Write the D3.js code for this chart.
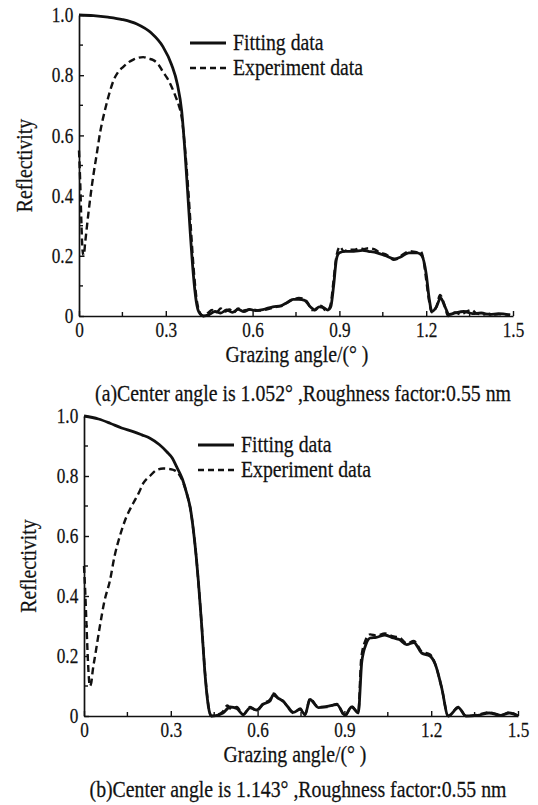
<!DOCTYPE html>
<html>
<head>
<meta charset="utf-8">
<script src="https://cdn.jsdelivr.net/npm/d3@7"></script>
<style>
  html, body { margin: 0; padding: 0; background: #fff; }
  svg text { font-family: "Liberation Serif", "Times New Roman", serif; fill: #111; stroke: #111; stroke-width: 0.25; }
</style>
</head>
<body>
<svg id="chart" width="538" height="805"></svg>
<script>
// ---------- DATA ----------
const xTicks = [0, 0.3, 0.6, 0.9, 1.2, 1.5];
const xTickLabels = ["0", "0.3", "0.6", "0.9", "1.2", "1.5"];
const yTicks = [0, 0.2, 0.4, 0.6, 0.8, 1.0];
const yTickLabels = ["0", "0.2", "0.4", "0.6", "0.8", "1.0"];
const seriesNames = ["Fitting data", "Experiment data"];
const captions = [
  "(a)Center angle is 1.052\u00B0 ,Roughness factor:0.55 nm",
  "(b)Center angle is 1.143\u00B0 ,Roughness factor:0.55 nm"
];
const xLabel = "Grazing angle/(\u00B0 )";
const yLabel = "Reflectivity";

// Panel (a) fitting
const fitA_x = [0, 0.05, 0.1, 0.15, 0.2, 0.25, 0.29, 0.32, 0.34, 0.355, 0.366, 0.375, 0.385, 0.395, 0.405, 0.415, 0.43, 0.45, 0.47, 0.49, 0.51, 0.53, 0.55, 0.57, 0.59, 0.61, 0.63, 0.65, 0.67, 0.7, 0.72, 0.74, 0.76, 0.78, 0.8, 0.815, 0.83, 0.845, 0.86, 0.87, 0.88, 0.89, 0.9, 0.92, 0.95, 0.98, 1.0, 1.03, 1.06, 1.09, 1.11, 1.14, 1.17, 1.185, 1.2, 1.21, 1.22, 1.235, 1.25, 1.265, 1.28, 1.3, 1.33, 1.36, 1.39, 1.42, 1.45, 1.49];
const fitA_y = [1.0, 0.998, 0.993, 0.985, 0.97, 0.94, 0.895, 0.835, 0.77, 0.68, 0.55, 0.42, 0.27, 0.14, 0.05, 0.012, 0.0, 0.005, 0.015, 0.01, 0.02, 0.012, 0.022, 0.015, 0.022, 0.018, 0.02, 0.025, 0.03, 0.035, 0.045, 0.055, 0.055, 0.052, 0.03, 0.02, 0.03, 0.028, 0.02, 0.03, 0.1, 0.19, 0.21, 0.215, 0.215, 0.218, 0.215, 0.21, 0.2, 0.19, 0.195, 0.21, 0.21, 0.2, 0.14, 0.06, 0.015, 0.03, 0.06, 0.03, 0.005, 0.01, 0.015, 0.008, 0.01, 0.005, 0.008, 0.003];

// Panel (a) experiment
const expA_x = [0, 0.004, 0.008, 0.012, 0.016, 0.022, 0.03, 0.04, 0.05, 0.06, 0.073, 0.09, 0.105, 0.12, 0.135, 0.153, 0.17, 0.188, 0.205, 0.222, 0.24, 0.257, 0.275, 0.291, 0.305, 0.32, 0.334, 0.345, 0.355, 0.366, 0.376, 0.386, 0.396, 0.406, 0.416, 0.43, 0.445, 0.46, 0.475, 0.49, 0.505, 0.52, 0.535, 0.55, 0.565, 0.58, 0.6, 0.62, 0.64, 0.66, 0.68, 0.7, 0.72, 0.74, 0.76, 0.775, 0.79, 0.805, 0.816, 0.828, 0.839, 0.85, 0.86, 0.87, 0.88, 0.89, 0.902, 0.915, 0.93, 0.95, 0.97, 0.985, 1.0, 1.02, 1.04, 1.06, 1.075, 1.086, 1.1, 1.12, 1.144, 1.167, 1.18, 1.19, 1.2, 1.21, 1.219, 1.235, 1.248, 1.262, 1.276, 1.3, 1.32, 1.34, 1.357, 1.375, 1.4, 1.42, 1.44, 1.46, 1.49];
const expA_y = [0.55, 0.45, 0.32, 0.22, 0.2, 0.25, 0.32, 0.4, 0.47, 0.53, 0.61, 0.685, 0.74, 0.784, 0.81, 0.828, 0.842, 0.852, 0.858, 0.86, 0.855, 0.85, 0.835, 0.81, 0.79, 0.762, 0.729, 0.7, 0.66, 0.56, 0.44, 0.3, 0.16, 0.06, 0.015, 0.0, 0.01, 0.02, 0.012, 0.025, 0.015, 0.022, 0.012, 0.025, 0.018, 0.02, 0.022, 0.018, 0.02, 0.025, 0.03, 0.033, 0.045, 0.055, 0.06, 0.058, 0.045, 0.02, 0.02, 0.035, 0.033, 0.02, 0.02, 0.04, 0.12, 0.2, 0.23, 0.215, 0.22, 0.22, 0.225, 0.222, 0.225, 0.222, 0.21, 0.205, 0.195, 0.187, 0.19, 0.205, 0.215, 0.212, 0.215, 0.19, 0.12, 0.05, 0.012, 0.03, 0.07, 0.04, 0.0, 0.012, 0.005, 0.015, 0.02, 0.008, 0.005, 0.008, 0.005, 0.006, 0.004];

// Panel (b) fitting
const fitB_x = [0, 0.05, 0.09, 0.13, 0.17, 0.2, 0.228, 0.26, 0.286, 0.305, 0.32, 0.34, 0.355, 0.368, 0.378, 0.388, 0.395, 0.407, 0.419, 0.43, 0.44, 0.46, 0.48, 0.505, 0.528, 0.55, 0.574, 0.597, 0.62, 0.643, 0.654, 0.67, 0.689, 0.705, 0.724, 0.747, 0.764, 0.781, 0.81, 0.84, 0.874, 0.902, 0.925, 0.948, 0.96, 0.975, 0.989, 1.01, 1.04, 1.07, 1.09, 1.115, 1.14, 1.167, 1.196, 1.215, 1.236, 1.259, 1.294, 1.32, 1.36, 1.4, 1.44, 1.47, 1.5];
const fitB_y = [1.0, 0.99, 0.976, 0.96, 0.948, 0.937, 0.926, 0.905, 0.881, 0.86, 0.831, 0.79, 0.742, 0.69, 0.62, 0.53, 0.453, 0.298, 0.131, 0.031, 0.0, 0.002, 0.01, 0.03, 0.025, 0.005, 0.027, 0.02, 0.04, 0.05, 0.07, 0.06, 0.048, 0.03, 0.012, 0.022, 0.005, 0.055, 0.028, 0.032, 0.038, 0.003, 0.03, 0.01, 0.18, 0.24, 0.26, 0.262, 0.27, 0.26, 0.255, 0.238, 0.245, 0.21, 0.2, 0.17, 0.095, 0.0, 0.028, 0.0, 0.002, 0.01, 0.002, 0.01, 0.0];

// Panel (b) experiment
const expB_x = [0, 0.004, 0.008, 0.012, 0.016, 0.02, 0.025, 0.03, 0.04, 0.055, 0.07, 0.09, 0.105, 0.124, 0.145, 0.17, 0.19, 0.205, 0.228, 0.251, 0.274, 0.297, 0.31, 0.325, 0.34, 0.355, 0.368, 0.378, 0.388, 0.395, 0.407, 0.419, 0.43, 0.44, 0.46, 0.48, 0.495, 0.51, 0.528, 0.55, 0.574, 0.597, 0.62, 0.643, 0.656, 0.672, 0.689, 0.705, 0.724, 0.747, 0.764, 0.781, 0.81, 0.84, 0.874, 0.902, 0.925, 0.948, 0.958, 0.972, 0.989, 1.01, 1.04, 1.07, 1.09, 1.115, 1.14, 1.167, 1.196, 1.215, 1.236, 1.259, 1.294, 1.32, 1.36, 1.4, 1.44, 1.47, 1.5];
const expB_y = [0.5, 0.42, 0.32, 0.22, 0.14, 0.1, 0.11, 0.15, 0.21, 0.3, 0.38, 0.453, 0.53, 0.6, 0.66, 0.709, 0.745, 0.776, 0.8, 0.82, 0.825, 0.823, 0.82, 0.81, 0.785, 0.742, 0.69, 0.62, 0.53, 0.45, 0.3, 0.135, 0.035, 0.0, 0.004, 0.015, 0.035, 0.022, 0.03, 0.004, 0.03, 0.018, 0.042, 0.055, 0.075, 0.058, 0.05, 0.028, 0.01, 0.025, 0.004, 0.058, 0.03, 0.03, 0.04, 0.0, 0.032, 0.012, 0.19, 0.25, 0.272, 0.268, 0.275, 0.265, 0.262, 0.242, 0.25, 0.215, 0.205, 0.17, 0.095, 0.0, 0.03, 0.0, 0.004, 0.012, 0.003, 0.012, 0.0];

// ---------- DRAW ----------
const svg = d3.select("#chart");
const TICK_FS = 21, TICK_SX = 0.82;
const LAB_FS = 23, LAB_SX = 0.86;

function addText(parent, x, y, str, fs, sx, anchor) {
  return parent.append("text")
    .attr("transform", `translate(${x},${y}) scale(${sx},1)`)
    .attr("text-anchor", anchor).attr("font-size", fs).text(str);
}

function panel(cfg) {
  const x = d3.scaleLinear().domain([0, 1.5]).range([cfg.left, cfg.right]);
  const y = d3.scaleLinear().domain([0, 1.0]).range([cfg.bottom, cfg.top]);
  const g = svg.append("g");

  // minor ticks
  const xMinor = [0.15, 0.45, 0.75, 1.05, 1.35];
  g.selectAll(".xminor").data(xMinor).join("line")
    .attr("x1", d => x(d)).attr("x2", d => x(d))
    .attr("y1", cfg.bottom).attr("y2", cfg.bottom - 4)
    .attr("stroke", "#111").attr("stroke-width", 1.4);
  const yMinor = [0.1, 0.3, 0.5, 0.7, 0.9];
  g.selectAll(".yminor").data(yMinor).join("line")
    .attr("x1", cfg.left).attr("x2", cfg.left + 4)
    .attr("y1", d => y(d)).attr("y2", d => y(d))
    .attr("stroke", "#111").attr("stroke-width", 1.4);

  const xAxis = d3.axisBottom(x).tickValues(xTicks)
    .tickFormat((d, i) => xTickLabels[i]).tickSizeInner(-5).tickSizeOuter(0).tickPadding(6);
  const gx = g.append("g").attr("transform", `translate(0,${cfg.bottom})`).call(xAxis);
  gx.attr("font-family", null).attr("font-size", null);
  gx.select(".domain").attr("stroke", "#111").attr("stroke-width", 1.7);
  gx.selectAll(".tick line").attr("stroke", "#111").attr("stroke-width", 1.4);
  gx.selectAll(".tick text").attr("font-size", TICK_FS)
    .attr("transform", `scale(${TICK_SX},1)`);

  const yAxis = d3.axisLeft(y).tickValues(yTicks)
    .tickFormat((d, i) => yTickLabels[i]).tickSizeInner(-5).tickSizeOuter(0).tickPadding(7);
  const gy = g.append("g").attr("transform", `translate(${cfg.left},0)`).call(yAxis);
  gy.attr("font-family", null).attr("font-size", null);
  gy.select(".domain").attr("stroke", "#111").attr("stroke-width", 1.7);
  gy.selectAll(".tick line").attr("stroke", "#111").attr("stroke-width", 1.4);
  gy.selectAll(".tick text").attr("font-size", TICK_FS)
    .attr("transform", `scale(${TICK_SX},1)`);

  const line = d3.line().x(d => x(d[0])).y(d => y(d[1])).curve(d3.curveMonotoneX);

  g.append("path").datum(d3.zip(cfg.expX, cfg.expY))
    .attr("d", line).attr("fill", "none").attr("stroke", "#111")
    .attr("stroke-width", 2.4).attr("stroke-dasharray", "7,4");
  g.append("path").datum(d3.zip(cfg.fitX, cfg.fitY))
    .attr("d", line).attr("fill", "none").attr("stroke", "#111")
    .attr("stroke-width", 2.8).attr("stroke-linejoin", "round");

  // legend
  const lg = g.append("g");
  lg.append("line").attr("x1", cfg.legX).attr("x2", cfg.legX + 36)
    .attr("y1", cfg.legY).attr("y2", cfg.legY)
    .attr("stroke", "#111").attr("stroke-width", 2.8);
  lg.append("line").attr("x1", cfg.legX).attr("x2", cfg.legX + 36)
    .attr("y1", cfg.legY + 25).attr("y2", cfg.legY + 25)
    .attr("stroke", "#111").attr("stroke-width", 2.4).attr("stroke-dasharray", "6,4");
  seriesNames.forEach((name, i) => {
    addText(lg, cfg.legX + 43, cfg.legY + 25 * i + 7, name, LAB_FS, LAB_SX, "start");
  });

  // axis titles
  g.append("text")
    .attr("transform", `translate(${cfg.ylabX},${(cfg.top + cfg.bottom) / 2}) rotate(-90) scale(${LAB_SX},1)`)
    .attr("text-anchor", "middle").attr("dy", "0.35em").attr("font-size", LAB_FS).text(yLabel);
  addText(g, cfg.xlabX, cfg.bottom + 46, xLabel, LAB_FS, LAB_SX, "middle");
  addText(g, cfg.capX, cfg.capY, cfg.caption, LAB_FS, LAB_SX, "middle");
}

panel({ left: 79, right: 513, top: 15, bottom: 316, fitX: fitA_x, fitY: fitA_y, expX: expA_x, expY: expA_y,
        legX: 190, legY: 43, ylabX: 24, xlabX: 297, capX: 303, capY: 401, caption: captions[0] });
panel({ left: 84, right: 518, top: 416, bottom: 716, fitX: fitB_x, fitY: fitB_y, expX: expB_x, expY: expB_y,
        legX: 198, legY: 445, ylabX: 28, xlabX: 295, capX: 298, capY: 797, caption: captions[1] });
</script>
</body>
</html>
